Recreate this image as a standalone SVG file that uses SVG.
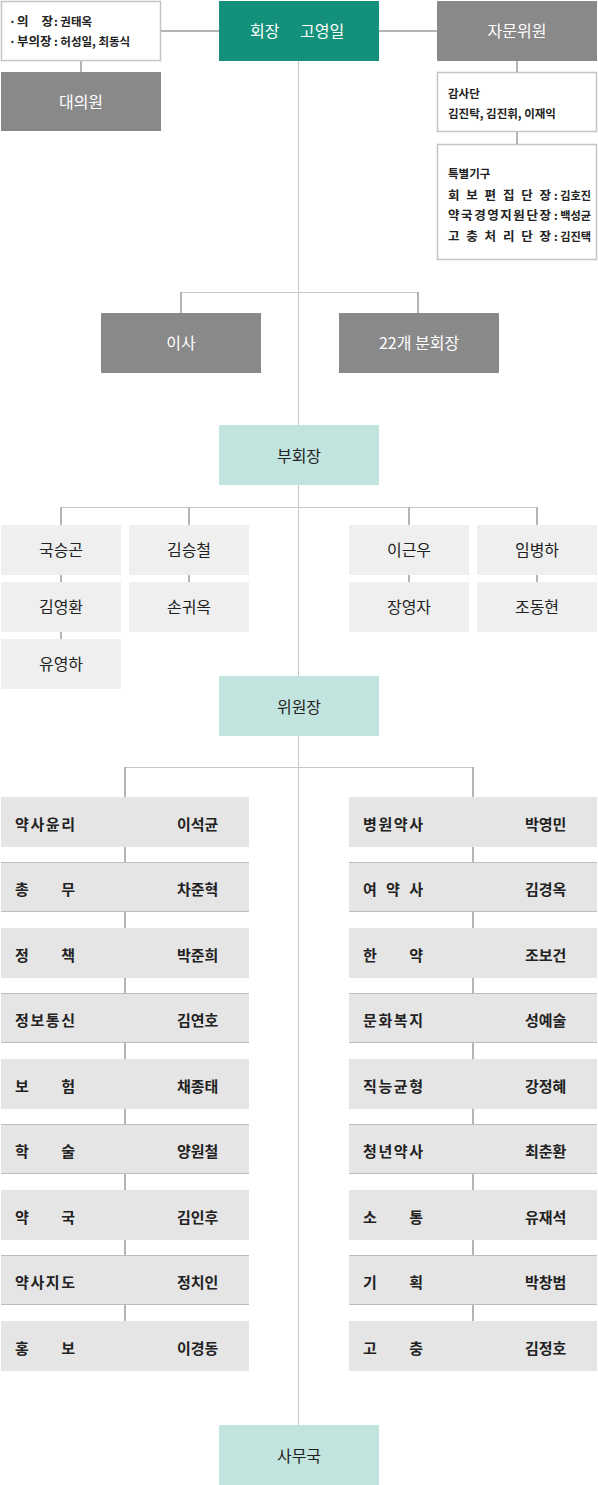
<svg xmlns="http://www.w3.org/2000/svg" width="598" height="1485" viewBox="0 0 598 1485">
<style>
text{font-family:"Noto Sans CJK KR","Noto Sans",sans-serif;}
.green{fill:#14917a;}
.gray{fill:#898989;}
.mint{fill:#c1e4de;}
.vice{fill:#efefef;}
.com{fill:#e5e5e5;}
.wbox{fill:#fff;stroke:#c4c4c4;stroke-width:1.5;}
.hw{fill:#fff;font-size:16px;}
.hd{fill:#222;font-size:16px;}
.vn{fill:#222;font-size:16px;text-anchor:middle;}
.ct{fill:#222;font-size:15px;font-weight:600;}
.sm{fill:#222;font-size:11.5px;font-weight:600;}
.lb{fill:#222;font-size:12.5px;font-weight:600;}
.ln{stroke:#c8c8c8;stroke-width:1;fill:none;}
.lv{stroke:#b4b4b4;stroke-width:2;fill:none;}
.bd{stroke:#bdbdbd;stroke-width:1;}
</style>
<g id="connectors">
<line class="ln" x1="298.5" y1="61" x2="298.5" y2="1425"/>
<line class="lv" x1="161" y1="31" x2="219" y2="31"/>
<line class="lv" x1="379" y1="31" x2="437" y2="31"/>
<line class="lv" x1="81" y1="61" x2="81" y2="72"/>
<line class="lv" x1="517" y1="61" x2="517" y2="144"/>
<line class="ln" x1="181" y1="292.5" x2="418" y2="292.5"/>
<line class="lv" x1="181" y1="292" x2="181" y2="313"/>
<line class="lv" x1="418" y1="292" x2="418" y2="313"/>
<line class="ln" x1="61" y1="507.5" x2="537" y2="507.5"/>
<line class="lv" x1="61" y1="507" x2="61" y2="639"/>
<line class="lv" x1="189" y1="507" x2="189" y2="582"/>
<line class="lv" x1="409" y1="507" x2="409" y2="582"/>
<line class="lv" x1="537" y1="507" x2="537" y2="582"/>
<line class="ln" x1="125" y1="767.5" x2="473" y2="767.5"/>
<line class="lv" x1="125" y1="767" x2="125" y2="1321"/>
<line class="lv" x1="473" y1="767" x2="473" y2="1321"/>
</g>
<g id="n-officers">
<rect class="wbox" x="1.5" y="1.5" width="159" height="59"/>
<text class="sm" x="9" y="26">·</text>
<text class="lb" x="17" y="26" textLength="36" lengthAdjust="spacing">의 장</text>
<text class="sm" x="54" y="26">: 권태옥</text>
<text class="sm" x="9" y="46">·</text>
<text class="lb" x="17" y="46">부의장</text>
<text class="sm" x="54" y="46">: 허성일, 최동식</text>
</g>
<g id="n-president">
<rect class="green" x="219" y="1" width="160" height="60"/>
<text class="hw" x="250" y="37">회장 <tspan x="300">고영일</tspan></text>
</g>
<g id="n-advisory">
<rect class="gray" x="437" y="1" width="160" height="60"/>
<text class="hw" x="517" y="37" text-anchor="middle">자문위원</text>
</g>
<g id="n-delegates">
<rect class="gray" x="1" y="72" width="160" height="59"/>
<text class="hw" x="81" y="108" text-anchor="middle">대의원</text>
</g>
<g id="n-audit">
<rect class="wbox" x="437.5" y="72.5" width="159" height="59"/>
<text class="sm" x="448" y="98">감사단</text>
<text class="sm" x="448" y="118">김진탁, 김진휘, 이재익</text>
</g>
<g id="n-special">
<rect class="wbox" x="437.5" y="144.5" width="159" height="115"/>
<text class="sm" x="448" y="178">특별기구</text>
<text class="lb" x="448" y="200" textLength="103" lengthAdjust="spacing">회 보 편 집 단 장</text>
<text class="sm" x="554" y="200" textLength="37" lengthAdjust="spacingAndGlyphs">: 김호진</text>
<text class="lb" x="448" y="220" textLength="103" lengthAdjust="spacing">약국경영지원단장</text>
<text class="sm" x="554" y="220" textLength="37" lengthAdjust="spacingAndGlyphs">: 백성균</text>
<text class="lb" x="448" y="241" textLength="103" lengthAdjust="spacing">고 충 처 리 단 장</text>
<text class="sm" x="554" y="241" textLength="37" lengthAdjust="spacingAndGlyphs">: 김진택</text>
</g>
<g id="n-directors">
<rect class="gray" x="101" y="313" width="160" height="60"/>
<text class="hw" x="181" y="349" text-anchor="middle">이사</text>
</g>
<g id="n-branches">
<rect class="gray" x="339" y="313" width="160" height="60"/>
<text class="hw" x="419" y="349" text-anchor="middle">22개 분회장</text>
</g>
<g id="n-vp">
<rect class="mint" x="219" y="425" width="160" height="60"/>
<text class="hd" x="299" y="462" text-anchor="middle">부회장</text>
</g>
<g id="n-vp1"><rect class="vice" x="1" y="525" width="120" height="50"/><text class="vn" x="61" y="556">국승곤</text></g>
<g id="n-vp2"><rect class="vice" x="1" y="582" width="120" height="50"/><text class="vn" x="61" y="613">김영환</text></g>
<g id="n-vp3"><rect class="vice" x="1" y="639" width="120" height="50"/><text class="vn" x="61" y="670">유영하</text></g>
<g id="n-vp4"><rect class="vice" x="129" y="525" width="120" height="50"/><text class="vn" x="189" y="556">김승철</text></g>
<g id="n-vp5"><rect class="vice" x="129" y="582" width="120" height="50"/><text class="vn" x="189" y="613">손귀옥</text></g>
<g id="n-vp6"><rect class="vice" x="349" y="525" width="120" height="50"/><text class="vn" x="409" y="556">이근우</text></g>
<g id="n-vp7"><rect class="vice" x="349" y="582" width="120" height="50"/><text class="vn" x="409" y="613">장영자</text></g>
<g id="n-vp8"><rect class="vice" x="477" y="525" width="120" height="50"/><text class="vn" x="537" y="556">임병하</text></g>
<g id="n-vp9"><rect class="vice" x="477" y="582" width="120" height="50"/><text class="vn" x="537" y="613">조동현</text></g>
<g id="n-chairs">
<rect class="mint" x="219" y="676" width="160" height="60"/>
<text class="hd" x="299" y="713" text-anchor="middle">위원장</text>
</g>
<g id="n-c1"><rect class="com" x="1" y="797" width="248" height="50"/><text class="ct" x="15" y="830" textLength="60" lengthAdjust="spacing">약사윤리</text><text class="ct" x="177" y="830">이석균</text></g>
<g id="n-c2"><rect class="com" x="1" y="862" width="248" height="50"/><line class="bd" x1="1" y1="862.5" x2="249" y2="862.5"/><line class="bd" x1="1" y1="911.5" x2="249" y2="911.5"/><text class="ct" x="15" y="895" textLength="60" lengthAdjust="spacing">총 무</text><text class="ct" x="177" y="895">차준혁</text></g>
<g id="n-c3"><rect class="com" x="1" y="928" width="248" height="50"/><text class="ct" x="15" y="961" textLength="60" lengthAdjust="spacing">정 책</text><text class="ct" x="177" y="961">박준희</text></g>
<g id="n-c4"><rect class="com" x="1" y="993" width="248" height="50"/><line class="bd" x1="1" y1="993.5" x2="249" y2="993.5"/><line class="bd" x1="1" y1="1042.5" x2="249" y2="1042.5"/><text class="ct" x="15" y="1026" textLength="60" lengthAdjust="spacing">정보통신</text><text class="ct" x="177" y="1026">김연호</text></g>
<g id="n-c5"><rect class="com" x="1" y="1059" width="248" height="50"/><text class="ct" x="15" y="1092" textLength="60" lengthAdjust="spacing">보 험</text><text class="ct" x="177" y="1092">채종태</text></g>
<g id="n-c6"><rect class="com" x="1" y="1124" width="248" height="50"/><line class="bd" x1="1" y1="1124.5" x2="249" y2="1124.5"/><line class="bd" x1="1" y1="1173.5" x2="249" y2="1173.5"/><text class="ct" x="15" y="1157" textLength="60" lengthAdjust="spacing">학 술</text><text class="ct" x="177" y="1157">양원철</text></g>
<g id="n-c7"><rect class="com" x="1" y="1190" width="248" height="50"/><text class="ct" x="15" y="1223" textLength="60" lengthAdjust="spacing">약 국</text><text class="ct" x="177" y="1223">김인후</text></g>
<g id="n-c8"><rect class="com" x="1" y="1255" width="248" height="50"/><line class="bd" x1="1" y1="1255.5" x2="249" y2="1255.5"/><line class="bd" x1="1" y1="1304.5" x2="249" y2="1304.5"/><text class="ct" x="15" y="1288" textLength="60" lengthAdjust="spacing">약사지도</text><text class="ct" x="177" y="1288">정치인</text></g>
<g id="n-c9"><rect class="com" x="1" y="1321" width="248" height="50"/><text class="ct" x="15" y="1354" textLength="60" lengthAdjust="spacing">홍 보</text><text class="ct" x="177" y="1354">이경동</text></g>
<g id="n-c10"><rect class="com" x="349" y="797" width="248" height="50"/><text class="ct" x="363" y="830" textLength="60" lengthAdjust="spacing">병원약사</text><text class="ct" x="525" y="830">박영민</text></g>
<g id="n-c11"><rect class="com" x="349" y="862" width="248" height="50"/><line class="bd" x1="349" y1="862.5" x2="597" y2="862.5"/><line class="bd" x1="349" y1="911.5" x2="597" y2="911.5"/><text class="ct" x="363" y="895" textLength="60" lengthAdjust="spacing">여 약 사</text><text class="ct" x="525" y="895">김경옥</text></g>
<g id="n-c12"><rect class="com" x="349" y="928" width="248" height="50"/><text class="ct" x="363" y="961" textLength="60" lengthAdjust="spacing">한 약</text><text class="ct" x="525" y="961">조보건</text></g>
<g id="n-c13"><rect class="com" x="349" y="993" width="248" height="50"/><line class="bd" x1="349" y1="993.5" x2="597" y2="993.5"/><line class="bd" x1="349" y1="1042.5" x2="597" y2="1042.5"/><text class="ct" x="363" y="1026" textLength="60" lengthAdjust="spacing">문화복지</text><text class="ct" x="525" y="1026">성예술</text></g>
<g id="n-c14"><rect class="com" x="349" y="1059" width="248" height="50"/><text class="ct" x="363" y="1092" textLength="60" lengthAdjust="spacing">직능균형</text><text class="ct" x="525" y="1092">강정혜</text></g>
<g id="n-c15"><rect class="com" x="349" y="1124" width="248" height="50"/><line class="bd" x1="349" y1="1124.5" x2="597" y2="1124.5"/><line class="bd" x1="349" y1="1173.5" x2="597" y2="1173.5"/><text class="ct" x="363" y="1157" textLength="60" lengthAdjust="spacing">청년약사</text><text class="ct" x="525" y="1157">최춘환</text></g>
<g id="n-c16"><rect class="com" x="349" y="1190" width="248" height="50"/><text class="ct" x="363" y="1223" textLength="60" lengthAdjust="spacing">소 통</text><text class="ct" x="525" y="1223">유재석</text></g>
<g id="n-c17"><rect class="com" x="349" y="1255" width="248" height="50"/><line class="bd" x1="349" y1="1255.5" x2="597" y2="1255.5"/><line class="bd" x1="349" y1="1304.5" x2="597" y2="1304.5"/><text class="ct" x="363" y="1288" textLength="60" lengthAdjust="spacing">기 획</text><text class="ct" x="525" y="1288">박창범</text></g>
<g id="n-c18"><rect class="com" x="349" y="1321" width="248" height="50"/><text class="ct" x="363" y="1354" textLength="60" lengthAdjust="spacing">고 충</text><text class="ct" x="525" y="1354">김정호</text></g>
<g id="n-office">
<rect class="mint" x="219" y="1425" width="160" height="60"/>
<text class="hd" x="299" y="1462" text-anchor="middle">사무국</text>
</g>
</svg>
